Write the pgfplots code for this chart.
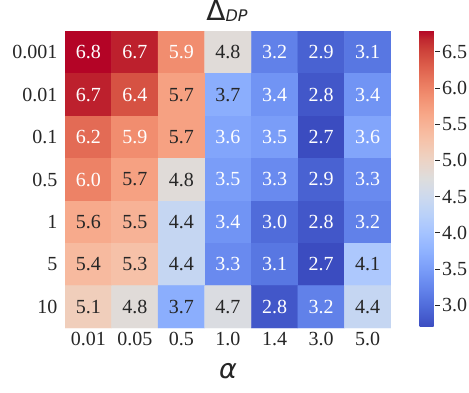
\documentclass[border=0pt]{standalone}
\usepackage{pgfplots}
\pgfplotsset{compat=1.18}
\usepackage{pgfplotstable}
\usepackage{fontspec}
\setmainfont{Liberation Serif}
\newfontfamily\dejavu{DejaVu Sans}

% matplotlib coolwarm, 33 samples
\pgfplotsset{colormap={coolwarm}{
  rgb255=(59,76,192) rgb255=(68,90,204) rgb255=(77,104,215) rgb255=(87,117,225)
  rgb255=(98,130,234) rgb255=(108,142,241) rgb255=(119,154,247) rgb255=(130,165,251)
  rgb255=(141,176,254) rgb255=(152,185,255) rgb255=(163,194,255) rgb255=(174,201,253)
  rgb255=(184,208,249) rgb255=(194,213,244) rgb255=(204,217,238) rgb255=(213,219,230)
  rgb255=(221,221,221) rgb255=(229,216,209) rgb255=(236,211,197) rgb255=(241,204,184)
  rgb255=(245,196,172) rgb255=(247,187,160) rgb255=(247,177,148) rgb255=(247,166,135)
  rgb255=(244,154,123) rgb255=(241,141,111) rgb255=(236,127,99) rgb255=(229,112,88)
  rgb255=(222,96,77) rgb255=(213,80,66) rgb255=(203,62,56) rgb255=(192,40,47)
  rgb255=(180,4,38)}}

% rows: 0.001 0.01 0.1 0.5 1 5 10 ; cols: alpha
\pgfplotstableread{
x y c
0 0 6.8
1 0 6.7
2 0 5.9
3 0 4.8
4 0 3.2
5 0 2.9
6 0 3.1
0 1 6.7
1 1 6.4
2 1 5.7
3 1 3.7
4 1 3.4
5 1 2.8
6 1 3.4
0 2 6.2
1 2 5.9
2 2 5.7
3 2 3.6
4 2 3.5
5 2 2.7
6 2 3.6
0 3 6.0
1 3 5.7
2 3 4.8
3 3 3.5
4 3 3.3
5 3 2.9
6 3 3.3
0 4 5.6
1 4 5.5
2 4 4.4
3 4 3.4
4 4 3.0
5 4 2.8
6 4 3.2
0 5 5.4
1 5 5.3
2 5 4.4
3 5 3.3
4 5 3.1
5 5 2.7
6 5 4.1
0 6 5.1
1 6 4.8
2 6 3.7
3 6 4.7
4 6 2.8
5 6 3.2
6 6 4.4
}\hmdata

\newcommand\lblfont{\fontsize{20bp}{22bp}\selectfont}
% white text on the dark ends of the map (meta < 3.65 or > 5.85)
\newcommand\cellnum{%
  \ifdim\pgfplotspointmetatransformed pt<232pt\color{white}%
  \else\ifdim\pgfplotspointmetatransformed pt>768pt\color{white}%
  \else\color{black!85}\fi\fi
  \pgfmathprintnumber[fixed,fixed zerofill,precision=1,assume math mode=true]{\pgfplotspointmeta}}

\begin{document}
\begin{tikzpicture}
\path[use as bounding box] (0,0) rectangle (469bp,393bp);
\begin{axis}[
  at={(65bp,65bp)}, anchor=south west,
  scale only axis, width=326bp, height=297bp,
  xmin=-0.5, xmax=6.5, ymin=-0.5, ymax=6.5, y dir=reverse,
  enlargelimits=false,
  xtick={0,...,6}, xticklabels={0.01,0.05,0.5,1.0,1.4,3.0,5.0},
  ytick={0,...,6}, yticklabels={0.001,0.01,0.1,0.5,1,5,10},
  major tick length=0pt,
  axis line style={draw=none},
  tick label style={font=\lblfont, text=black!85},
  xticklabel style={yshift=-1bp},
  yticklabel style={xshift=-4bp},
  colormap name=coolwarm,
  point meta min=2.7, point meta max=6.8,
  title={\fontsize{28bp}{30bp}\dejavu Δ\raisebox{-1bp}{\fontsize{16bp}{16bp}\selectfont\itshape DP}},
  title style={at={(0.5,1)}, anchor=base, yshift=5bp, xshift=-1bp, text=black!85},
  xlabel={\fontsize{27bp}{29bp}\dejavu\itshape α},
  xlabel style={at={(0.5,0)}, anchor=base, yshift=-50bp, text=black!85},
  colorbar,
  colorbar style={
    at={(parent axis.north east)}, anchor=north west, xshift=20bp, yshift=1bp,
    scale only axis, width=15bp, height=297bp,
    axis line style={draw=none},
    ytick={3,3.5,4,4.5,5,5.5,6,6.5}, ytick pos=right,
    tick align=outside, major tick length=5bp,
    tick style={black!85, line width=0.8bp},
    yticklabel style={font=\lblfont, text=black!85, xshift=-1bp,
      /pgf/number format/.cd, fixed, fixed zerofill, precision=1, assume math mode=true},
  },
]
\addplot[matrix plot*, mesh/cols=7, point meta=explicit]
  table[x=x, y=y, meta=c] {\hmdata};
\addplot[draw=none, mark=none, point meta=explicit,
  nodes near coords={\cellnum},
  nodes near coords style={anchor=center, font=\lblfont}]
  table[x=x, y=y, meta=c] {\hmdata};
\end{axis}
\end{tikzpicture}
\end{document}
